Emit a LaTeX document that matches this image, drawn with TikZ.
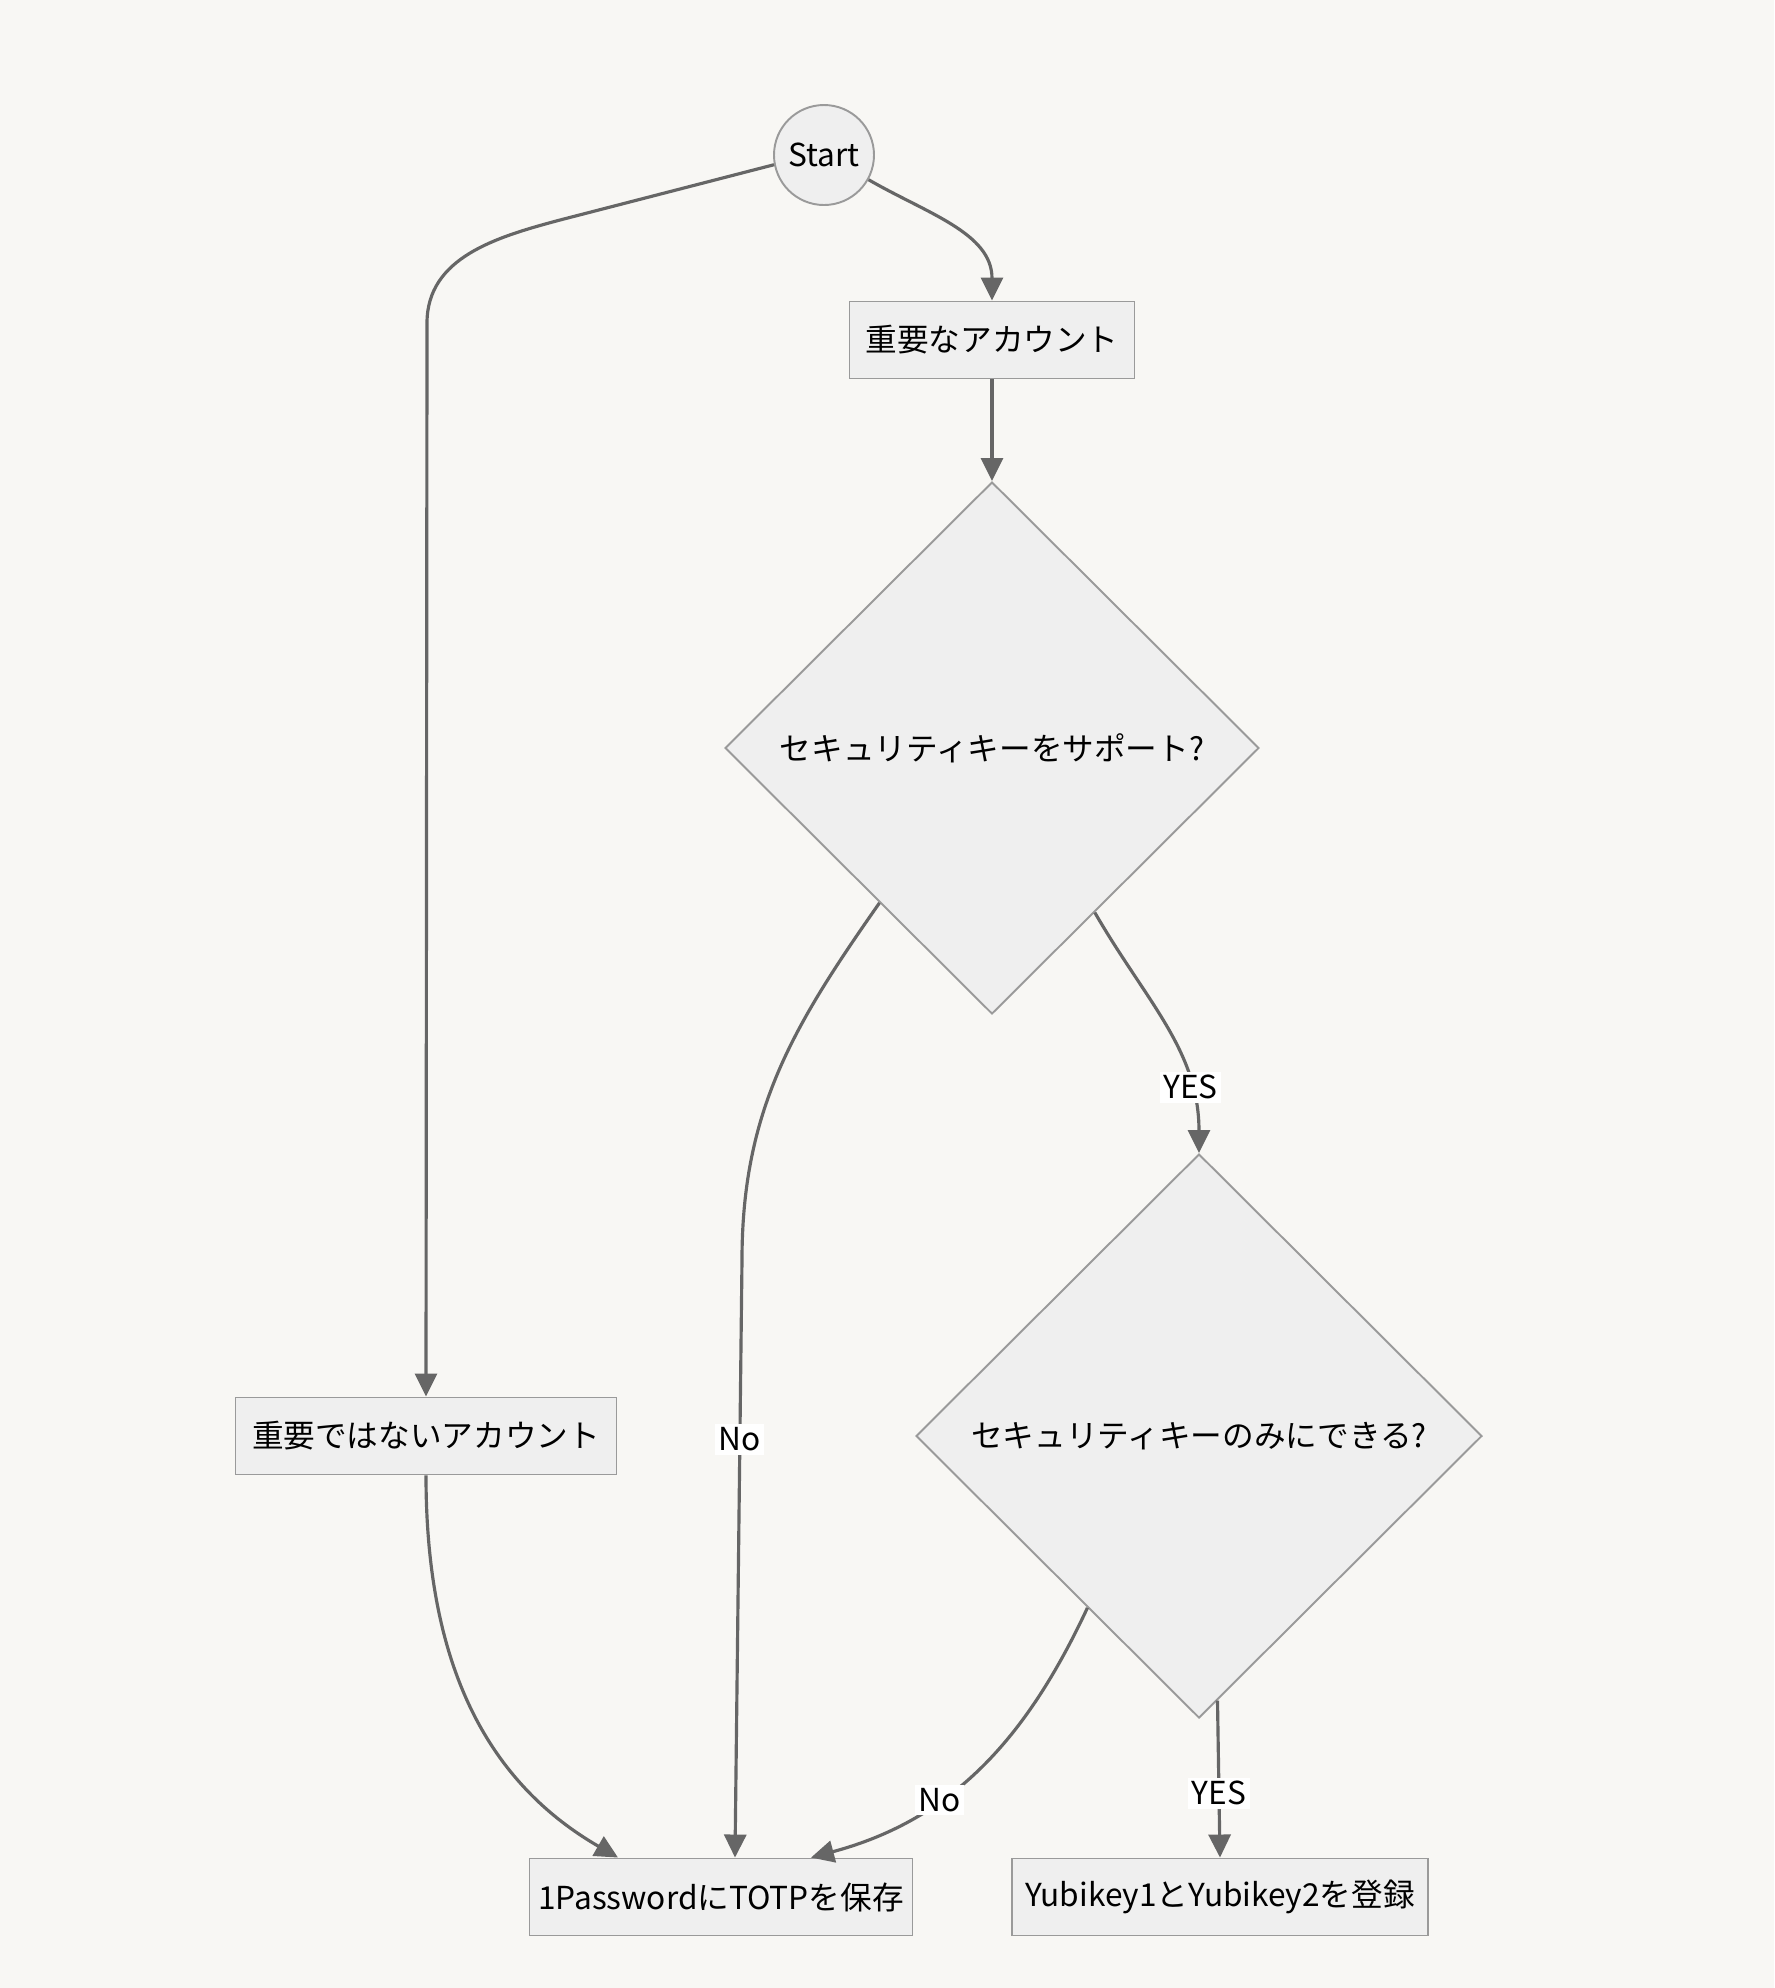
\documentclass[tikz,border=0pt]{standalone}
\usepackage{fontspec}
\setmainfont{Noto Sans CJK JP}
\usetikzlibrary{shapes.geometric,arrows.meta}
\definecolor{bgcol}{HTML}{F8F7F4}
\definecolor{nodefill}{HTML}{EFEFEF}
\definecolor{nodeline}{HTML}{9A9A9A}
\definecolor{edgecol}{HTML}{666666}
\tikzset{
  box/.style={draw=nodeline,fill=nodefill,line width=0.55pt,minimum height=0.77cm,inner sep=0pt,font=\fontsize{9}{11}\selectfont},
  startnode/.style={circle,draw=nodeline,fill=nodefill,line width=0.55pt,minimum size=1cm,inner sep=0pt,font=\fontsize{9}{11}\selectfont},
  decision/.style={diamond,draw=nodeline,fill=nodefill,line width=0.55pt,inner sep=0pt,font=\fontsize{9}{11}\selectfont},
  flow/.style={draw=edgecol,line width=0.9pt,-{Triangle[length=2.3mm,width=2.2mm]}},
  lbl/.style={fill=white,inner sep=1pt,font=\fontsize{9}{11}\selectfont}
}
\begin{document}
\begin{tikzpicture}
  \fill[bgcol] (0,0) rectangle (17.74,-19.88);
  \useasboundingbox (0,0) rectangle (17.74,-19.88);
  \node[startnode] (start) at (8.24,-1.55) {Start};
  \node[box,minimum width=2.85cm] (imp) at (9.92,-3.40) {重要なアカウント};
  \node[decision,minimum width=5.34cm,minimum height=5.32cm] (d1) at (9.92,-7.48) {セキュリティキーをサポート?};
  \node[decision,minimum width=5.66cm,minimum height=5.64cm] (d2) at (11.99,-14.36) {セキュリティキーのみにできる?};
  \node[box,minimum width=3.81cm] (nimp) at (4.26,-14.36) {重要ではないアカウント};
  \node[box,minimum width=3.83cm] (totp) at (7.21,-18.97) {1PasswordにTOTPを保存};
  \node[box,minimum width=4.16cm] (yubi) at (12.20,-18.97) {Yubikey1とYubikey2を登録};
  \coordinate (bendA1) at (5.6,-2.2);
  \coordinate (bendA2) at (4.27,-3.23);
  \coordinate (bendB) at (7.42,-12.6);
  % edges
  \draw[flow] (start.-29) to[out=-30,in=90] (imp.north);
  \draw[flow] (start.191) -- (bendA1) to[out=195,in=90] (bendA2) -- (nimp.north);
  \draw[flow] (imp.south) -- (d1.north);
  \draw[flow] (d1.-58) to[out=-60,in=90] node[lbl,pos=0.76]{YES} (d2.north);
  \draw[flow] (d1.-126.5) to[out=-125,in=90] (bendB) -- node[lbl,pos=0.3]{No} ([xshift=1.4mm]totp.north);
  \draw[flow] (nimp.south) to[out=-90,in=150] ([xshift=-10.3mm]totp.north);
  \draw[flow] (d2.-123.7) to[out=-115,in=15] node[lbl,pos=0.64]{No} ([xshift=9mm]totp.north);
  \draw[flow] (d2.-86.4) -- node[lbl,pos=0.59]{YES} (yubi.north);
\end{tikzpicture}
\end{document}
